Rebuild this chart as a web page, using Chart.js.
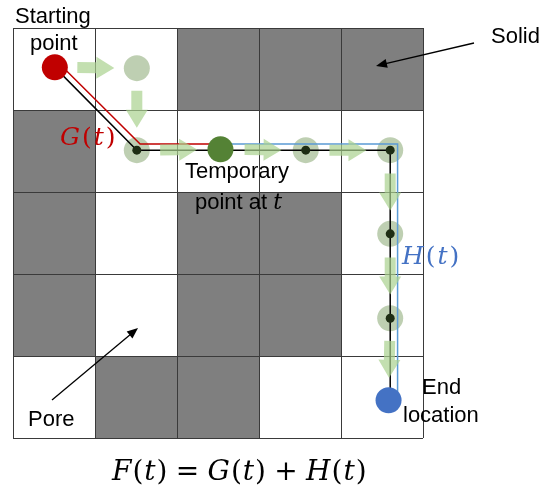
<!DOCTYPE html>
<html>
<head>
<meta charset="utf-8">
<script src="https://cdn.jsdelivr.net/npm/chart.js@4.4.0/dist/chart.umd.min.js"></script>
<style>
  html, body { margin: 0; padding: 0; background: #fff; }
  #wrap { width: 543px; height: 491px; }
</style>
</head>
<body>
<div id="wrap"><canvas id="grid"></canvas></div>
<script>
// Grid is gridSize x gridSize cells, solid cells given as [col, row]
const gridSize = 5;
const solidCells = [[2,0],[3,0],[4,0],[0,1],[0,2],[2,2],[3,2],[0,3],[2,3],[3,3],[1,4],[2,4]];

// Points in cell units (x to the right, y downward)
const startPoint = [{x:0.51, y:0.48}];
const tempPoint = [{x:2.53, y:1.48}];
const endPoint = [{x:4.58, y:4.54}];
const visitedPoints = [{x:1.51,y:0.49},{x:1.51,y:1.49},{x:3.57,y:1.49},{x:4.6,y:1.49},{x:4.6,y:2.51},{x:4.6,y:3.54}];
const pathNodes = [{x:1.51,y:1.49},{x:3.57,y:1.49},{x:4.6,y:1.49},{x:4.6,y:2.51},{x:4.6,y:3.54}];

// Order the search visits the cells (green arrows go between these)
const searchOrder = [
  {x:0.51,y:0.48},{x:1.51,y:0.49},{x:1.51,y:1.49},{x:2.53,y:1.48},{x:3.57,y:1.49},
  {x:4.6,y:1.49},{x:4.6,y:2.51},{x:4.6,y:3.54},{x:4.58,y:4.54}
];

// Final path, and the G(t) / H(t) parts drawn beside it
const finalPath = [{x:0.51,y:0.48},{x:1.51,y:1.49},{x:2.53,y:1.49},{x:3.57,y:1.49},{x:4.6,y:1.49},{x:4.6,y:2.51},{x:4.6,y:3.54},{x:4.6,y:4.54}];
const gPath = [{x:0.56,y:0.43},{x:1.55,y:1.415},{x:2.53,y:1.415}];
const hPath = [{x:2.53,y:1.415},{x:4.69,y:1.415},{x:4.69,y:4.45}];

// Draw grey cells and grid lines under the datasets
const gridPlugin = {
  id: 'gridCells',
  beforeDatasetsDraw(chart) {
    const {ctx, scales: {x, y}} = chart;
    ctx.save();
    ctx.fillStyle = '#7f7f7f';
    solidCells.forEach(([c, r]) => {
      const x0 = x.getPixelForValue(c), x1 = x.getPixelForValue(c + 1);
      const y0 = y.getPixelForValue(r), y1 = y.getPixelForValue(r + 1);
      ctx.fillRect(x0, y0, x1 - x0, y1 - y0);
    });
    ctx.strokeStyle = '#3a3a3a';
    ctx.lineWidth = 1;
    ctx.beginPath();
    for (let i = 0; i <= gridSize; i++) {
      const px = Math.round(x.getPixelForValue(i)) + 0.5;
      const py = Math.round(y.getPixelForValue(i)) + 0.5;
      ctx.moveTo(px, y.getPixelForValue(0));
      ctx.lineTo(px, y.getPixelForValue(gridSize));
      ctx.moveTo(x.getPixelForValue(0), py);
      ctx.lineTo(x.getPixelForValue(gridSize), py);
    }
    ctx.stroke();
    ctx.restore();
  }
};

// Light green block arrows between the search steps
const stepArrowPlugin = {
  id: 'stepArrows',
  afterDatasetsDraw(chart) {
    const {ctx, scales: {x, y}} = chart;
    const L = 37, sw = 5.5, hw = 11, hl = 18;
    ctx.save();
    ctx.fillStyle = 'rgba(169, 209, 142, 0.7)';
    for (let i = 0; i < searchOrder.length - 1; i++) {
      const ax = x.getPixelForValue(searchOrder[i].x), ay = y.getPixelForValue(searchOrder[i].y);
      const bx = x.getPixelForValue(searchOrder[i + 1].x), by = y.getPixelForValue(searchOrder[i + 1].y);
      const d = Math.hypot(bx - ax, by - ay);
      const ux = (bx - ax) / d, uy = (by - ay) / d;
      const nx = -uy, ny = ux;
      const mx = (ax + bx) / 2, my = (ay + by) / 2;
      const pts = [[-L/2, -sw], [L/2 - hl, -sw], [L/2 - hl, -hw], [L/2, 0], [L/2 - hl, hw], [L/2 - hl, sw], [-L/2, sw]];
      ctx.beginPath();
      pts.forEach(([a, b], k) => {
        const px = mx + ux * a + nx * b, py = my + uy * a + ny * b;
        if (k === 0) ctx.moveTo(px, py); else ctx.lineTo(px, py);
      });
      ctx.closePath();
      ctx.fill();
    }
    ctx.restore();
  }
};

// Math text: letters italic, the rest upright
function drawMath(ctx, str, x, y, size, color, gap) {
  ctx.fillStyle = color;
  let cx = x;
  for (const ch of str) {
    if (ch === ' ') { cx += size * 0.26; continue; }
    ctx.font = (/[A-Za-z]/.test(ch) ? 'italic ' : '') + size + 'px "DejaVu Serif"';
    ctx.fillText(ch, cx, y);
    cx += ctx.measureText(ch).width + gap;
  }
}

function drawPointer(ctx, x0, y0, x1, y1) {
  const a = Math.atan2(y1 - y0, x1 - x0);
  const hl = 11, hw = 4.5;
  ctx.beginPath();
  ctx.moveTo(x0, y0);
  ctx.lineTo(x1 - Math.cos(a) * hl * 0.8, y1 - Math.sin(a) * hl * 0.8);
  ctx.stroke();
  ctx.beginPath();
  ctx.moveTo(x1, y1);
  ctx.lineTo(x1 - Math.cos(a) * hl - Math.sin(a) * hw, y1 - Math.sin(a) * hl + Math.cos(a) * hw);
  ctx.lineTo(x1 - Math.cos(a) * hl + Math.sin(a) * hw, y1 - Math.sin(a) * hl - Math.cos(a) * hw);
  ctx.closePath();
  ctx.fill();
}

const labelPlugin = {
  id: 'labels',
  afterDraw(chart) {
    const ctx = chart.ctx;
    ctx.save();
    ctx.textBaseline = 'alphabetic';
    ctx.fillStyle = '#000';
    ctx.strokeStyle = '#000';
    ctx.lineWidth = 1.3;
    ctx.font = '22px "Liberation Sans"';
    ctx.fillText('Starting', 15, 23);
    ctx.fillText('point', 30, 50);
    ctx.fillText('Solid', 491, 43);
    ctx.fillText('Temporary', 185, 178);
    ctx.fillText('point at ', 195, 209);
    const w = ctx.measureText('point at ').width;
    ctx.font = 'italic 22px "DejaVu Serif"';
    ctx.fillText('t', 195 + w, 209);
    ctx.font = '22px "Liberation Sans"';
    ctx.fillText('Pore', 28, 426);
    ctx.fillText('End', 422, 394);
    ctx.fillText('location', 403, 422);
    drawPointer(ctx, 474, 43, 376, 66);
    drawPointer(ctx, 52, 400, 138, 328);
    drawMath(ctx, 'G(t)', 60, 145, 25, '#c00000', 2);
    drawMath(ctx, 'H(t)', 402, 264, 25, '#4472c4', 2);
    drawMath(ctx, 'F(t) = G(t) + H(t)', 112, 480, 28, '#000', 1);
    ctx.restore();
  }
};

new Chart(document.getElementById('grid'), {
  type: 'scatter',
  data: {
    datasets: [
      { data: startPoint, pointRadius: 13, pointBackgroundColor: '#c00000', pointBorderWidth: 0, order: 0 },
      { data: tempPoint, pointRadius: 13, pointBackgroundColor: '#548235', pointBorderWidth: 0, order: 0 },
      { data: endPoint, pointRadius: 13, pointBackgroundColor: '#4472c4', pointBorderWidth: 0, order: 0 },
      { data: pathNodes, pointRadius: 4.5, pointBackgroundColor: '#1e2d14', pointBorderWidth: 0, order: 1 },
      { data: finalPath, showLine: true, borderColor: '#000', borderWidth: 1.5, pointRadius: 0, order: 2 },
      { data: gPath, showLine: true, borderColor: '#c00000', borderWidth: 1.5, pointRadius: 0, order: 3 },
      { data: hPath, showLine: true, borderColor: '#5b9bd5', borderWidth: 1.5, pointRadius: 0, order: 4 },
      { data: visitedPoints, pointRadius: 13, pointBackgroundColor: 'rgba(84, 130, 53, 0.38)', pointBorderWidth: 0, order: 5 }
    ]
  },
  options: {
    responsive: true,
    maintainAspectRatio: false,
    animation: false,
    layout: { padding: { left: 12, right: 120, top: 28, bottom: 53 } },
    scales: {
      x: { type: 'linear', min: 0, max: gridSize, display: false },
      y: { type: 'linear', min: 0, max: gridSize, reverse: true, display: false }
    },
    plugins: { legend: { display: false }, tooltip: { enabled: false } },
    events: []
  },
  plugins: [gridPlugin, stepArrowPlugin, labelPlugin]
});
</script>
</body>
</html>
